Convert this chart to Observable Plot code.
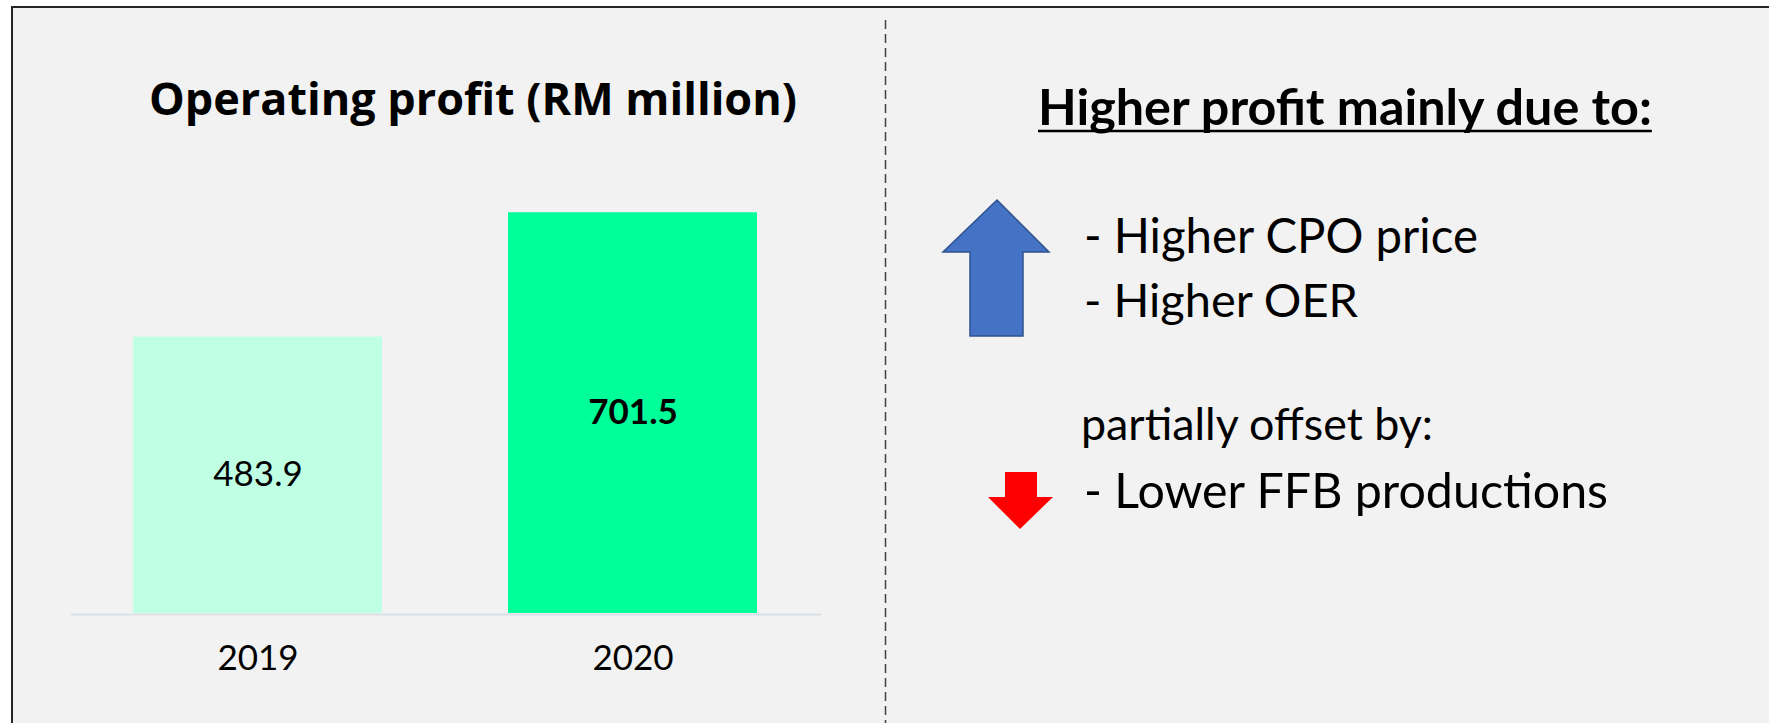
<!DOCTYPE html>
<html>
<head>
<meta charset="utf-8">
<script src="https://cdn.jsdelivr.net/npm/d3@7"></script>
<script src="https://cdn.jsdelivr.net/npm/@observablehq/plot@0.6"></script>
<style>
  html, body { margin: 0; padding: 0; background: #ffffff; }
  #page { position: relative; width: 1769px; height: 723px; overflow: hidden; background: #ffffff; font-family: Lato, "Open Sans", sans-serif; }
  #frame { position: absolute; left: 11px; top: 6px; width: 2000px; height: 1000px; box-sizing: border-box;
           border-left: 2px solid #262626; border-top: 2px solid #262626; background: #f2f2f2; }
  #chart { position: absolute; left: 0; top: 0; }
  #overlay { position: absolute; left: 0; top: 0; }
</style>
</head>
<body>
<div id="page">
  <div id="frame"></div>
  <div id="chart"></div>
  <svg id="overlay" width="1769" height="723" xmlns="http://www.w3.org/2000/svg"></svg>
</div>
<script>
// ---- data ----
const years = ["2019", "2020"];
const operatingProfit = [483.9, 701.5];
const chartTitle = "Operating profit (RM million)";
const headline = "Higher profit mainly due to:";
const upReasons = ["- Higher CPO price", "- Higher OER"];
const offsetLabel = "partially offset by:";
const downReasons = ["- Lower FFB productions"];

const rows = years.map((year, i) => ({year, profit: operatingProfit[i]}));
const lastIndex = rows.length - 1;

// ---- chart ----
const chart = Plot.plot({
  width: 885,
  height: 723,
  marginTop: 156,
  marginBottom: 110,
  marginLeft: 71,
  marginRight: 64,
  style: {background: "transparent", fontFamily: "Lato, sans-serif", color: "#000", overflow: "visible"},
  x: {domain: years, paddingInner: 0.3356, paddingOuter: 0.1657, align: 0.49, label: null},
  y: {domain: [0, 800], axis: null},
  color: {domain: years, range: ["#bfffe3", "#00ff99"]},
  marks: [
    Plot.barY(rows, {x: "year", y: "profit", fill: "year"}),
    Plot.ruleY([0], {stroke: "#dce1e8", strokeWidth: 2, dy: 1}),
    Plot.text(rows, {filter: (d, i) => i !== lastIndex, x: "year", y: d => d.profit / 2,
      text: d => d.profit.toFixed(1), fontSize: 35, fill: "#000"}),
    Plot.text(rows, {filter: (d, i) => i === lastIndex, x: "year", y: d => d.profit / 2,
      text: d => d.profit.toFixed(1), fontSize: 35, fontWeight: "bold", fill: "#000"}),
    Plot.axisX({tickSize: 0, tickPadding: 32, fontSize: 35, label: null, fill: "#000"})
  ]
});
document.getElementById("chart").appendChild(chart);

// ---- annotations ----
const NS = "http://www.w3.org/2000/svg";
const svg = document.getElementById("overlay");
function el(tag, attrs, parent = svg) {
  const e = document.createElementNS(NS, tag);
  for (const k in attrs) e.setAttribute(k, attrs[k]);
  parent.appendChild(e);
  return e;
}
function fitText(str, x, baseline, targetWidth, weight, anchor = "start", family = "Lato, sans-serif") {
  const t = el("text", {x, y: baseline, "font-family": family, "font-weight": weight,
    "font-size": 100, fill: "#000", "text-anchor": anchor});
  t.textContent = str;
  const w = t.getComputedTextLength();
  t.setAttribute("font-size", (100 * targetWidth / w).toFixed(2));
  return t;
}

// dashed divider
el("line", {x1: 885.5, x2: 885.5, y1: 20, y2: 723, stroke: "#404040", "stroke-width": 1.5, "stroke-dasharray": "9 5"});

// chart title
fitText(chartTitle, 473, 115, 648, "bold", "middle", "'Open Sans', sans-serif");

// right panel heading (underlined)
const h = fitText(headline, 1038, 125, 614, "bold");
const hb = h.getBBox();
el("line", {x1: hb.x, x2: hb.x + hb.width, y1: 131, y2: 131, stroke: "#000", "stroke-width": 2.5});

// reasons
const upWidths = [394, 274];
const upBaselines = [253, 317];
upReasons.forEach((s, i) => fitText(s, 1084, upBaselines[i], upWidths[i], "normal"));
fitText(offsetLabel, 1081, 440, 352, "normal");
downReasons.forEach((s, i) => fitText(s, 1084, 508 + i * 64, 524, "normal"));

// up arrow (blue)
el("polygon", {points: "997,200 1049,252 1023,252 1023,336 970,336 970,252 943,252",
  fill: "#4472c4", stroke: "#2f528f", "stroke-width": 1.5, "stroke-linejoin": "miter"});
// down arrow (red)
el("polygon", {points: "1005,472 1037,472 1037,497 1053,497 1020,529 988,497 1005,497",
  fill: "#ff0000"});
</script>
</body>
</html>
